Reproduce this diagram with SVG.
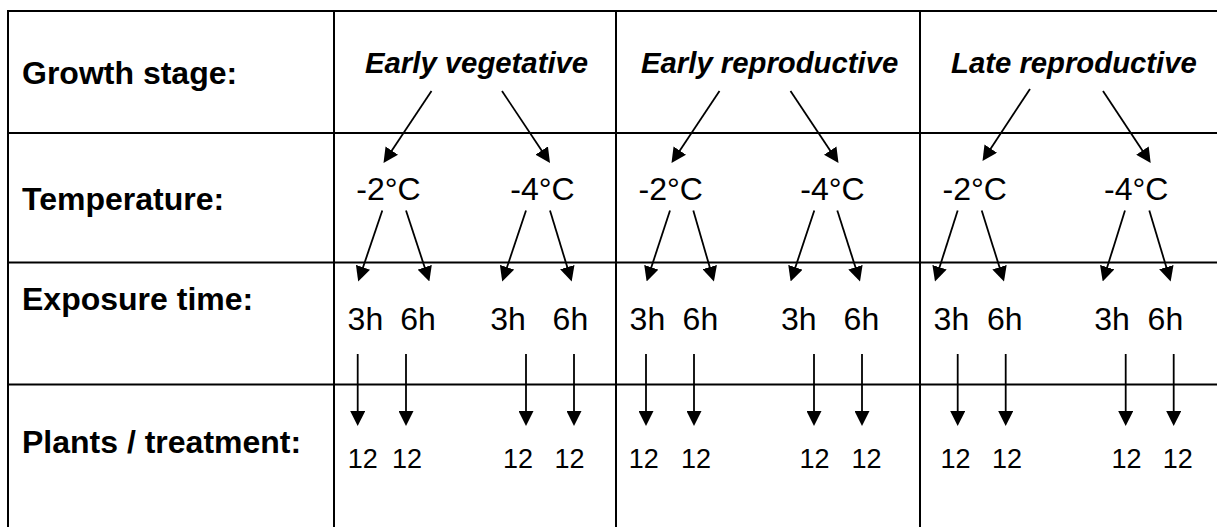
<svg xmlns="http://www.w3.org/2000/svg" width="1217" height="527" viewBox="0 0 1217 527">
  <style>
    .grid { stroke: #000; stroke-width: 2; fill: none; }
    .row { font-family: "Liberation Sans", Arial, sans-serif; font-weight: bold; font-size: 32px; fill: #000; }
    .stage { font-family: "Liberation Sans", Arial, sans-serif; font-weight: bold; font-style: italic; font-size: 29.3px; fill: #000; }
    .temp, .time { font-family: "Liberation Sans", Arial, sans-serif; font-size: 32px; fill: #000; }
    .count { font-family: "Liberation Sans", Arial, sans-serif; font-size: 27px; fill: #000; }
    .conn line { stroke: #000; stroke-width: 1.8; marker-end: url(#head); }
  </style>
  <defs>
    <marker id="head" markerUnits="userSpaceOnUse" markerWidth="15" markerHeight="15" refX="11" refY="7.5" orient="auto">
      <path d="M0,0 L15,7.5 L0,15 Z" fill="#000"/>
    </marker>
  </defs>

  <rect width="1217" height="527" fill="#fff"/>

  <!-- table grid -->
  <g id="grid" class="grid">
    <line x1="7" y1="11" x2="1217" y2="11"/>
    <line x1="7" y1="133" x2="1217" y2="133"/>
    <line x1="7" y1="262.5" x2="1217" y2="262.5"/>
    <line x1="7" y1="384.5" x2="1217" y2="384.5"/>
    <line x1="8" y1="10" x2="8" y2="527"/>
    <line x1="334" y1="10" x2="334" y2="527"/>
    <line x1="616" y1="10" x2="616" y2="527"/>
    <line x1="920" y1="10" x2="920" y2="527"/>
  </g>

  <!-- row headings -->
  <g id="row-stage"><text class="row" x="22" y="84">Growth stage:</text></g>
  <g id="row-temp"><text class="row" x="22" y="210">Temperature:</text></g>
  <g id="row-time"><text class="row" x="22" y="310">Exposure time:</text></g>
  <g id="row-plants"><text class="row" x="22" y="453">Plants / treatment:</text></g>

  <!-- growth stages -->
  <g id="stage-early-veg"><text class="stage" x="365" y="73">Early vegetative</text></g>
  <g id="stage-early-rep"><text class="stage" x="641" y="73">Early reproductive</text></g>
  <g id="stage-late-rep"><text class="stage" x="951" y="73">Late reproductive</text></g>

  <!-- temperatures -->
  <g id="t1a"><text class="temp" x="356.3" y="200">-2°C</text></g>
  <g id="t1b"><text class="temp" x="510.3" y="200">-4°C</text></g>
  <g id="t2a"><text class="temp" x="638.6" y="200">-2°C</text></g>
  <g id="t2b"><text class="temp" x="800.3" y="200">-4°C</text></g>
  <g id="t3a"><text class="temp" x="942.6" y="200">-2°C</text></g>
  <g id="t3b"><text class="temp" x="1104" y="200">-4°C</text></g>

  <!-- exposure times -->
  <g id="e1"><text class="time" x="347.6" y="330">3h</text></g>
  <g id="e2"><text class="time" x="400.3" y="330">6h</text></g>
  <g id="e3"><text class="time" x="490.3" y="330">3h</text></g>
  <g id="e4"><text class="time" x="552.6" y="330">6h</text></g>
  <g id="e5"><text class="time" x="629.6" y="330">3h</text></g>
  <g id="e6"><text class="time" x="682.6" y="330">6h</text></g>
  <g id="e7"><text class="time" x="781" y="330">3h</text></g>
  <g id="e8"><text class="time" x="843.6" y="330">6h</text></g>
  <g id="e9"><text class="time" x="933.6" y="330">3h</text></g>
  <g id="e10"><text class="time" x="987" y="330">6h</text></g>
  <g id="e11"><text class="time" x="1094.3" y="330">3h</text></g>
  <g id="e12"><text class="time" x="1147.6" y="330">6h</text></g>

  <!-- plants per treatment -->
  <g id="n1"><text class="count" x="347.8" y="468">12</text></g>
  <g id="n2"><text class="count" x="392.1" y="468">12</text></g>
  <g id="n3"><text class="count" x="503.1" y="468">12</text></g>
  <g id="n4"><text class="count" x="554.4" y="468">12</text></g>
  <g id="n5"><text class="count" x="628.8" y="468">12</text></g>
  <g id="n6"><text class="count" x="681.1" y="468">12</text></g>
  <g id="n7"><text class="count" x="799.4" y="468">12</text></g>
  <g id="n8"><text class="count" x="851.4" y="468">12</text></g>
  <g id="n9"><text class="count" x="940.4" y="468">12</text></g>
  <g id="n10"><text class="count" x="992.1" y="468">12</text></g>
  <g id="n11"><text class="count" x="1111.4" y="468">12</text></g>
  <g id="n12"><text class="count" x="1162.8" y="468">12</text></g>

  <!-- connectors -->
  <g id="connectors" class="conn">
    <!-- stage to temperature -->
    <line x1="431.5" y1="91" x2="385.7" y2="159.7"/>
    <line x1="502" y1="91" x2="547.8" y2="159.7"/>
    <line x1="719.5" y1="91" x2="673.7" y2="159.7"/>
    <line x1="790.5" y1="91" x2="836.3" y2="159.7"/>
    <line x1="1030" y1="89" x2="984.7" y2="157.7"/>
    <line x1="1103" y1="91" x2="1148.5" y2="159.7"/>
    <!-- temperature to exposure time -->
    <line x1="382.3" y1="210.5" x2="359.5" y2="277.7"/>
    <line x1="406" y1="210.5" x2="428.1" y2="277.7"/>
    <line x1="526" y1="210.5" x2="503.5" y2="277.7"/>
    <line x1="550" y1="210.5" x2="570.5" y2="277.7"/>
    <line x1="670" y1="210.5" x2="647.9" y2="277.7"/>
    <line x1="693.3" y1="210.5" x2="712.8" y2="277.7"/>
    <line x1="814.3" y1="210.5" x2="791.9" y2="277.7"/>
    <line x1="837.3" y1="210.5" x2="858.8" y2="277.7"/>
    <line x1="957.7" y1="210.5" x2="936.2" y2="277.7"/>
    <line x1="981.7" y1="210.5" x2="1002.8" y2="277.7"/>
    <line x1="1125" y1="210.5" x2="1103.9" y2="277.7"/>
    <line x1="1149.3" y1="210.5" x2="1169.5" y2="277.7"/>
    <!-- exposure time to plant count -->
    <line x1="357.7" y1="354" x2="357.7" y2="422"/>
    <line x1="406" y1="354" x2="406" y2="422"/>
    <line x1="526" y1="354" x2="526" y2="422"/>
    <line x1="574" y1="354" x2="574" y2="422"/>
    <line x1="646" y1="354" x2="646" y2="422"/>
    <line x1="694" y1="354" x2="694" y2="422"/>
    <line x1="814" y1="354" x2="814" y2="422"/>
    <line x1="862" y1="354" x2="862" y2="422"/>
    <line x1="957.7" y1="354" x2="957.7" y2="422"/>
    <line x1="1005.7" y1="354" x2="1005.7" y2="422"/>
    <line x1="1125.7" y1="354" x2="1125.7" y2="422"/>
    <line x1="1173.7" y1="354" x2="1173.7" y2="422"/>
  </g>
</svg>
